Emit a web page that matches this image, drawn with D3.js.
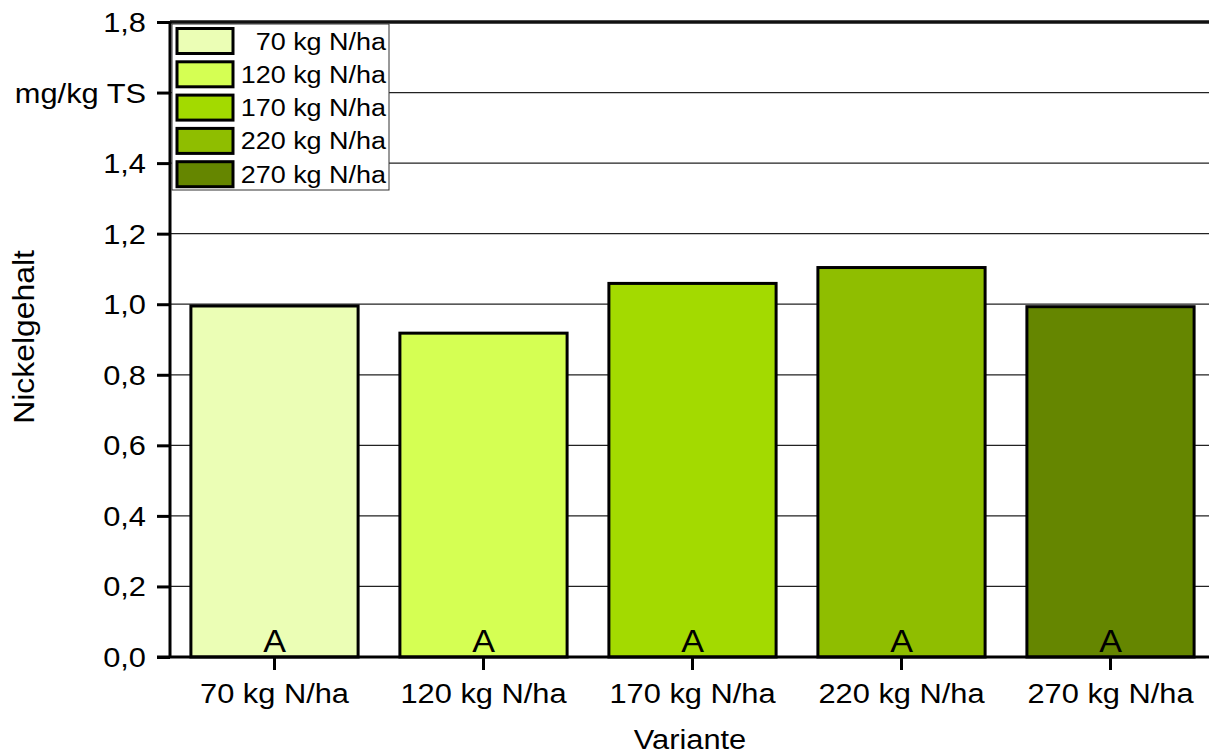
<!DOCTYPE html>
<html>
<head>
<meta charset="utf-8">
<script src="https://cdn.jsdelivr.net/npm/d3@7"></script>
<style>
  body { margin: 0; background: #fff; }
  text { font-family: "Liberation Sans", Arial, sans-serif; fill: #000; }
</style>
</head>
<body>
<svg id="chart" width="1209" height="755"></svg>
<script>
// data
const variants = ["70 kg N/ha", "120 kg N/ha", "170 kg N/ha", "220 kg N/ha", "270 kg N/ha"];
const nickel = [0.995, 0.918, 1.059, 1.104, 0.993];
const letters = ["A", "A", "A", "A", "A"];
const barColors = ["#ebfeb5", "#d5ff53", "#a3da00", "#8fbe00", "#658600"];
const yTicks = [0, 0.2, 0.4, 0.6, 0.8, 1.0, 1.2, 1.4, 1.6, 1.8];
const yLabels = ["0,0", "0,2", "0,4", "0,6", "0,8", "1,0", "1,2", "1,4", "mg/kg TS", "1,8"];

const plotLeft = 170, plotRight = 1215, plotTop = 22, plotBottom = 657;
const stretch = 1.1;

const svg = d3.select("#chart");

const x = d3.scaleBand().domain(variants).range([plotLeft, plotRight])
  .paddingInner(0.2).paddingOuter(0.1);
const y = d3.scaleLinear().domain([0, 1.8]).range([plotBottom, plotTop]);

// wide text helper (the original font is a bit stretched)
function wideText(g, tx, ty, str, size, anchor, rot) {
  return g.append("text")
    .attr("transform", "translate(" + tx + "," + ty + ")" + (rot ? " rotate(" + rot + ")" : "") + " scale(" + stretch + ",1)")
    .attr("text-anchor", anchor)
    .style("font-size", size + "px")
    .text(str);
}

// gridlines
svg.append("g").selectAll("line")
  .data(yTicks.filter(d => d > 0 && d < 1.8))
  .enter().append("line")
  .attr("x1", plotLeft).attr("x2", 1209)
  .attr("y1", d => y(d)).attr("y2", d => y(d))
  .attr("stroke", "#222").attr("stroke-width", 1.2);

// bars
svg.append("g").selectAll("rect")
  .data(nickel)
  .enter().append("rect")
  .attr("x", (d, i) => x(variants[i]))
  .attr("y", d => y(d))
  .attr("width", x.bandwidth())
  .attr("height", d => plotBottom - y(d))
  .attr("fill", (d, i) => barColors[i])
  .attr("stroke", "#000").attr("stroke-width", 3);

// letters in bars
const lg = svg.append("g");
letters.forEach((l, i) => {
  wideText(lg, x(variants[i]) + x.bandwidth() / 2, 652, l, 31, "middle");
});

// top frame
svg.append("line").attr("x1", plotLeft).attr("x2", 1209).attr("y1", plotTop).attr("y2", plotTop)
  .attr("stroke", "#111").attr("stroke-width", 3.5);

// y axis
const yAxis = svg.append("g").attr("transform", "translate(" + plotLeft + ",0)")
  .call(d3.axisLeft(y).tickValues(yTicks).tickSize(13).tickFormat(""));
yAxis.select(".domain").attr("stroke", "#000").attr("stroke-width", 3).attr("d", "M0," + plotTop + "V" + plotBottom);
yAxis.selectAll(".tick line").attr("stroke", "#000").attr("stroke-width", 3);
const ylg = svg.append("g");
yTicks.forEach((t, i) => {
  wideText(ylg, 146, y(t) + 10, yLabels[i], 28, "end");
});

// x axis
const xAxis = svg.append("g").attr("transform", "translate(0," + plotBottom + ")")
  .call(d3.axisBottom(x).tickSize(13).tickFormat(""));
xAxis.select(".domain").attr("stroke", "#000").attr("stroke-width", 3).attr("d", "M157,0H1209");
xAxis.selectAll(".tick line").attr("stroke", "#000").attr("stroke-width", 3);
const xlg = svg.append("g");
variants.forEach(v => {
  wideText(xlg, x(v) + x.bandwidth() / 2, 703, v, 28, "middle");
});

// axis titles
wideText(svg, 690, 749, "Variante", 28, "middle");
wideText(svg, 34, 337, "Nickelgehalt", 29, "middle", -90);

// legend
const legend = svg.append("g");
legend.append("rect").attr("x", 172).attr("y", 24).attr("width", 217).attr("height", 166)
  .attr("fill", "#fff").attr("stroke", "#333").attr("stroke-width", 1);
variants.forEach((v, i) => {
  const cy = 40.5 + i * 33.3;
  legend.append("rect").attr("x", 177).attr("y", cy - 12).attr("width", 56).attr("height", 25)
    .attr("fill", barColors[i]).attr("stroke", "#000").attr("stroke-width", 3);
  wideText(legend, 386, cy + 9, v, 24.5, "end");
});
</script>
</body>
</html>
